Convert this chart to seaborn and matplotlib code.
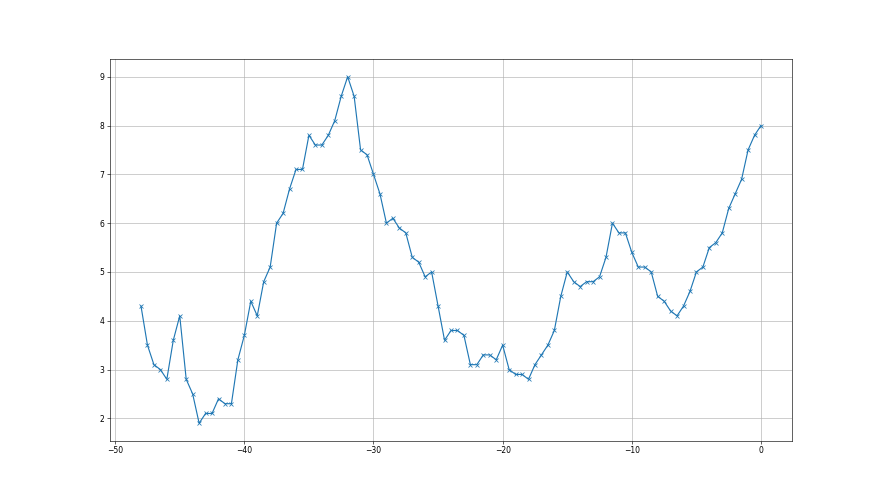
import numpy as np
import pandas as pd
import matplotlib
matplotlib.use('Agg')
import matplotlib.pyplot as plt
import seaborn as sns

# x runs from -48 to 0 in half steps
x_start, x_stop, x_step = -48.0, 0.0, 0.5
values = [
    4.3, 3.5, 3.1, 3.0, 2.8, 3.6, 4.1, 2.8, 2.5, 1.9, 2.1, 2.1, 2.4, 2.3, 2.3, 3.2,
    3.7, 4.4, 4.1, 4.8, 5.1, 6.0, 6.2, 6.7, 7.1, 7.1, 7.8, 7.6, 7.6, 7.8, 8.1, 8.6,
    9.0, 8.6, 7.5, 7.4, 7.0, 6.6, 6.0, 6.1, 5.9, 5.8, 5.3, 5.2, 4.9, 5.0, 4.3, 3.6,
    3.8, 3.8, 3.7, 3.1, 3.1, 3.3, 3.3, 3.2, 3.5, 3.0, 2.9, 2.9, 2.8, 3.1, 3.3, 3.5,
    3.8, 4.5, 5.0, 4.8, 4.7, 4.8, 4.8, 4.9, 5.3, 6.0, 5.8, 5.8, 5.4, 5.1, 5.1, 5.0,
    4.5, 4.4, 4.2, 4.1, 4.3, 4.6, 5.0, 5.1, 5.5, 5.6, 5.8, 6.3, 6.6, 6.9, 7.5, 7.8,
    8.0,
]
xs = np.arange(x_start, x_stop + x_step / 2, x_step)
df = pd.DataFrame({'x': xs[:len(values)], 'y': values})

fig, ax = plt.subplots(figsize=(16, 9), dpi=55)
sns.lineplot(data=df, x='x', y='y', marker='x', color='#1f77b4',
             markeredgecolor='#1f77b4', markeredgewidth=1.0, ax=ax)
ax.grid(True)
ax.set_xlabel('')
ax.set_ylabel('')
fig.savefig('out.png', dpi=55)
